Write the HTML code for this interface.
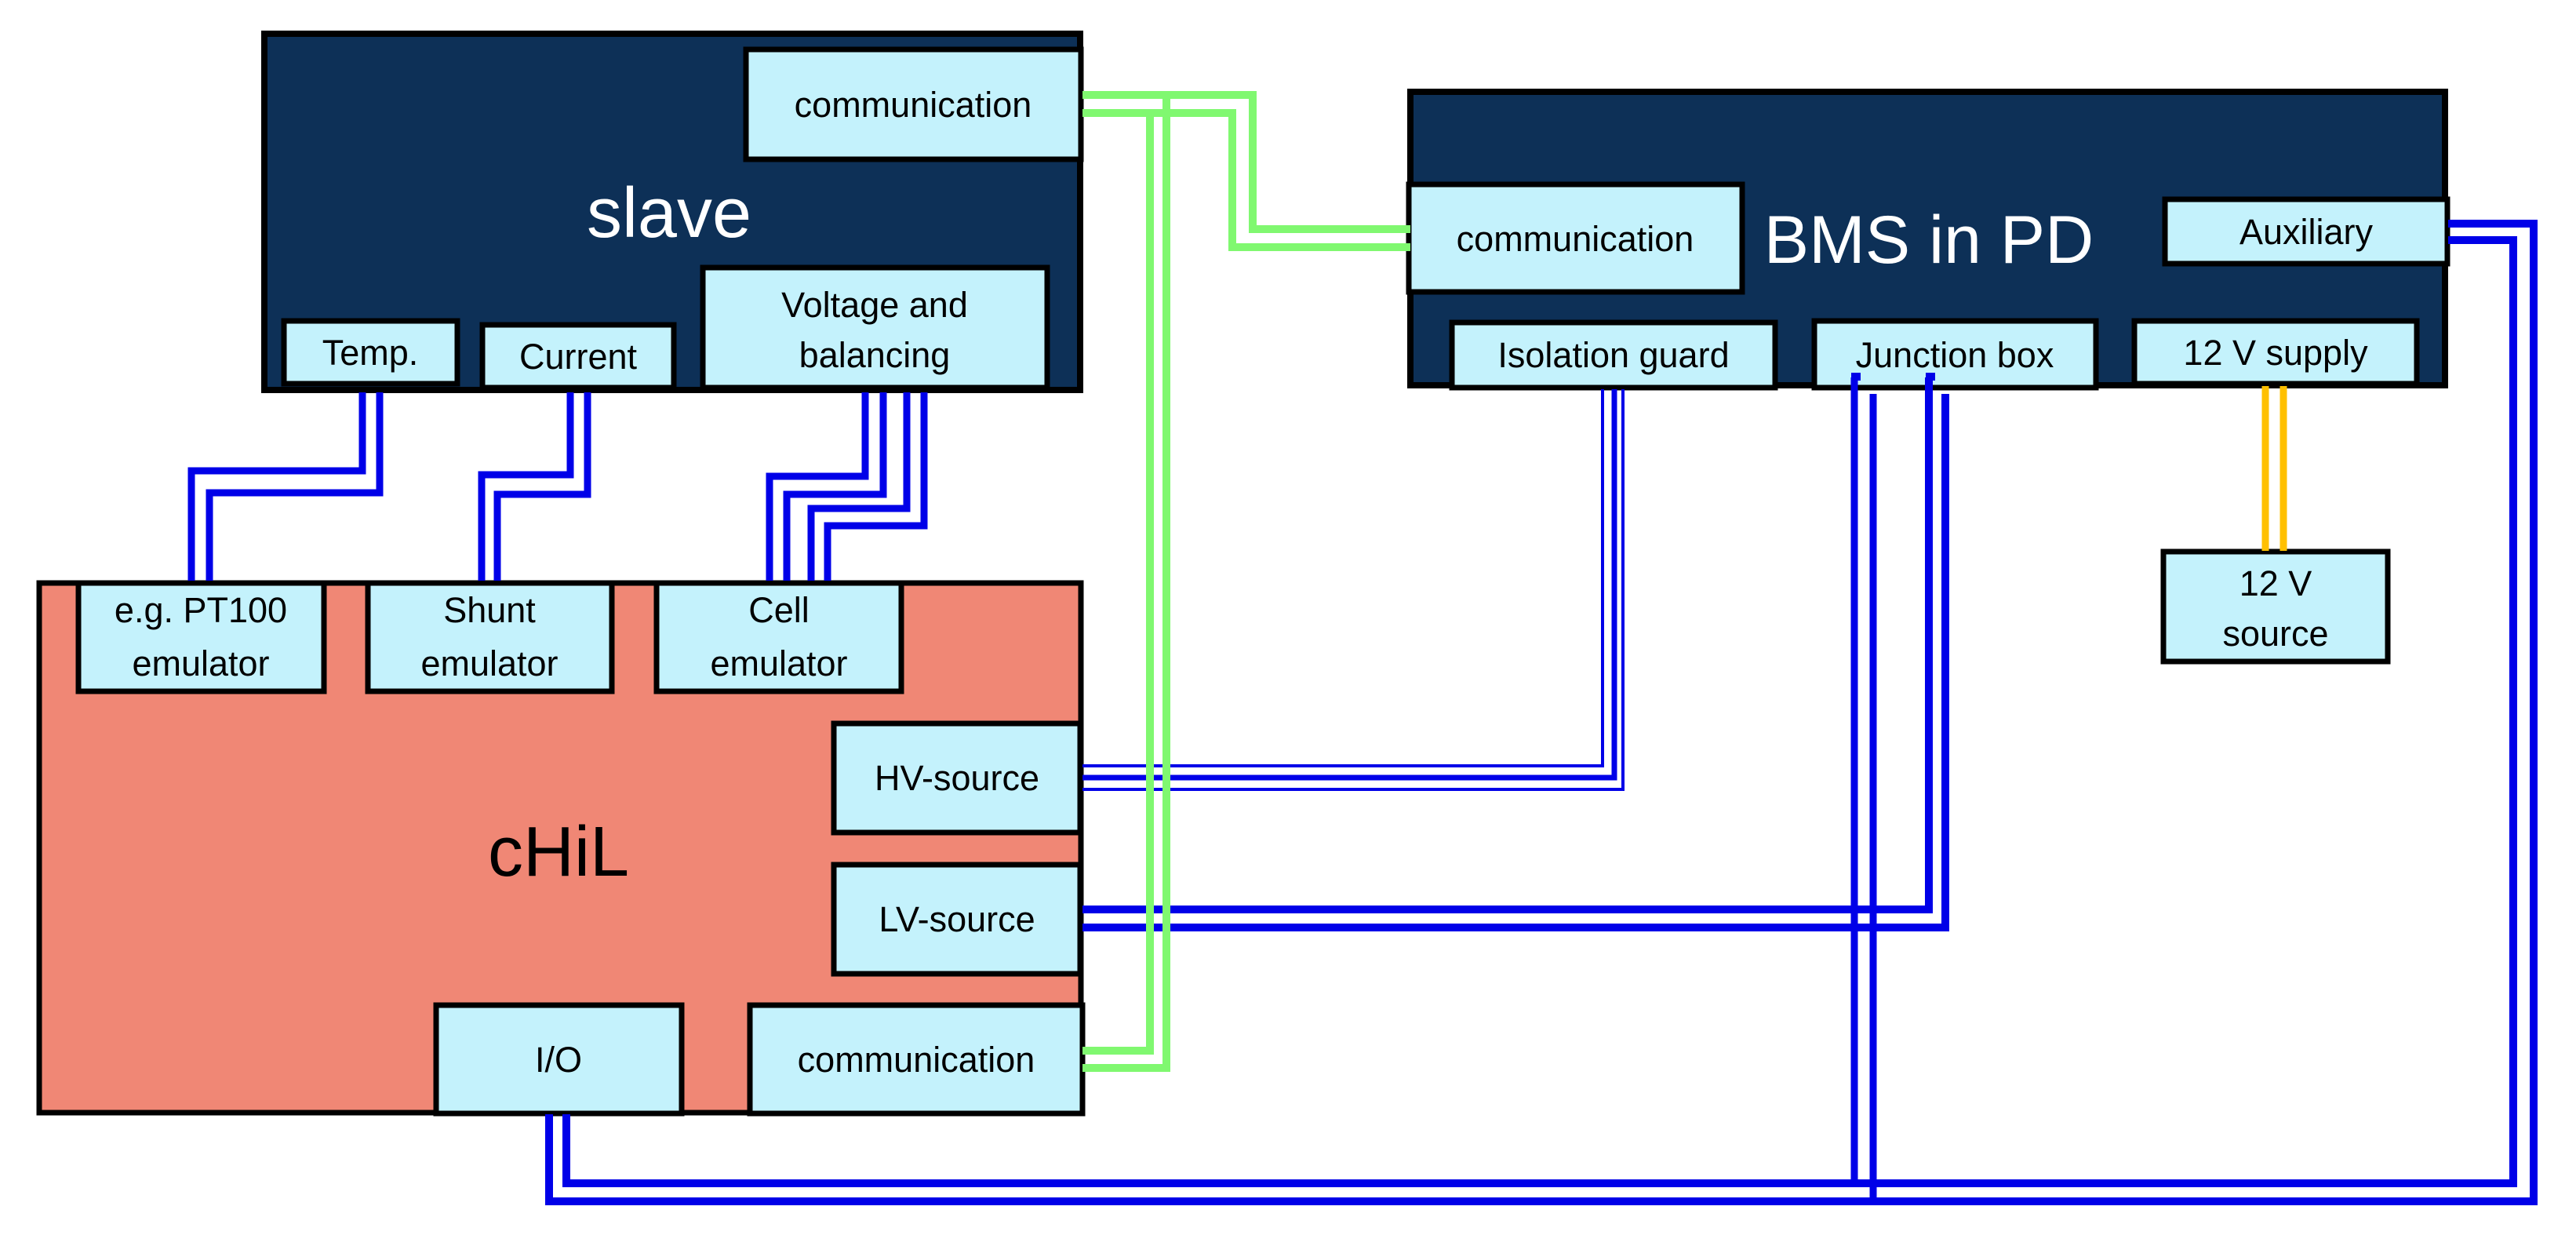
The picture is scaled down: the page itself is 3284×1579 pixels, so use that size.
<!DOCTYPE html>
<html><head><meta charset="utf-8"><style>html,body{margin:0;padding:0;background:#fff}svg{display:block}</style></head>
<body>
<svg width="3284" height="1579" viewBox="0 0 3284 1579" xmlns="http://www.w3.org/2000/svg" font-family="Liberation Sans, Arial, sans-serif">
<rect width="3284" height="1579" fill="#fff"/>
<rect x="337" y="43" width="1040" height="454" fill="#0D3057" stroke="#000" stroke-width="8"/>
<rect x="1798" y="117" width="1319" height="374" fill="#0D3057" stroke="#000" stroke-width="8"/>
<rect x="50" y="743" width="1328" height="675" fill="#F08775" stroke="#000" stroke-width="7"/>
<g fill="#C4F2FC" stroke="#000" stroke-width="7">
<rect x="951" y="63" width="427" height="140"/>
<rect x="362" y="409" width="221" height="80"/>
<rect x="615" y="414" width="244" height="80"/>
<rect x="896" y="341" width="439" height="153"/>
<rect x="1796" y="235" width="425" height="137"/>
<rect x="2760" y="254" width="360" height="82"/>
<rect x="1851" y="411" width="412" height="83"/>
<rect x="2313" y="409" width="359" height="85"/>
<rect x="2721" y="409" width="360" height="80"/>
<rect x="2758" y="703" width="286" height="140"/>
<rect x="100" y="743" width="313" height="138"/>
<rect x="469" y="743" width="311" height="138"/>
<rect x="837" y="743" width="312" height="138"/>
<rect x="1063" y="922" width="314" height="139"/>
<rect x="1063" y="1102" width="314" height="139"/>
<rect x="556" y="1281" width="313" height="138"/>
<rect x="956" y="1281" width="424" height="138"/>
</g>
<g fill="none" stroke="#0000E8" stroke-width="9" stroke-linejoin="miter">
<path d="M462 500 V600 H244 V740"/><path d="M484 500 V628 H267 V740"/>
<path d="M727 500 V605 H614 V740"/><path d="M749 500 V630 H634 V740"/>
<path d="M1103 500 V607 H981 V740"/><path d="M1126 500 V630 H1003 V740"/>
<path d="M1156 500 V648 H1034 V740"/><path d="M1178 500 V670 H1055 V740"/>
<path d="M1380 1159 H2459 V481" stroke-width="10"/><path d="M1380 1182 H2480 V502" stroke-width="10"/>
<path d="M2364 481 V1507"/><path d="M2388 502 V1530"/>
<path d="M700 1420 V1531 H3230 V285 H3121" stroke-width="10"/>
<path d="M722 1420 V1508 H3204 V306 H3121" stroke-width="10"/>
</g>
<g fill="none" stroke="#0000E8">
<path d="M1380 976 H2043 V496" stroke-width="4"/>
<path d="M1380 991 H2058 V496" stroke-width="7"/>
<path d="M1380 1006 H2069 V496" stroke-width="4"/>
</g>
<rect x="2360" y="475" width="12" height="10" fill="#0000E8"/>
<rect x="2455" y="475" width="12" height="10" fill="#0000E8"/>
<g fill="none" stroke="#80F870" stroke-width="10">
<path d="M1380 121 H1597 V292 H1798"/><path d="M1380 144 H1571 V315 H1798"/>
<path d="M1487 121 V1361 H1380"/><path d="M1466 144 V1339 H1380"/>
</g>
<g stroke="#FFC000" stroke-width="9"><path d="M2888 492 V702"/><path d="M2911 492 V702"/></g>
<g text-anchor="middle" fill="#fff">
<text x="853" y="302" font-size="90">slave</text>
<text x="2459" y="335" font-size="86">BMS in PD</text>
</g>
<text x="712" y="1116" font-size="90" text-anchor="middle" fill="#000">cHiL</text>
<g text-anchor="middle" fill="#000" font-size="45">
<text x="1164" y="149">communication</text>
<text x="472" y="465">Temp.</text>
<text x="737" y="470">Current</text>
<text x="1115" y="404">Voltage and</text>
<text x="1115" y="468">balancing</text>
<text x="2008" y="320">communication</text>
<text x="2940" y="311">Auxiliary</text>
<text x="2057" y="468">Isolation guard</text>
<text x="2492" y="468">Junction box</text>
<text x="2901" y="465">12 V supply</text>
<text x="2901" y="759">12 V</text>
<text x="2901" y="823">source</text>
<text x="256" y="793">e.g. PT100</text>
<text x="256" y="861">emulator</text>
<text x="624" y="793">Shunt</text>
<text x="624" y="861">emulator</text>
<text x="993" y="793">Cell</text>
<text x="993" y="861">emulator</text>
<text x="1220" y="1007">HV-source</text>
<text x="1220" y="1187">LV-source</text>
<text x="712" y="1366">I/O</text>
<text x="1168" y="1366">communication</text>
</g>
</svg>
</body></html>
